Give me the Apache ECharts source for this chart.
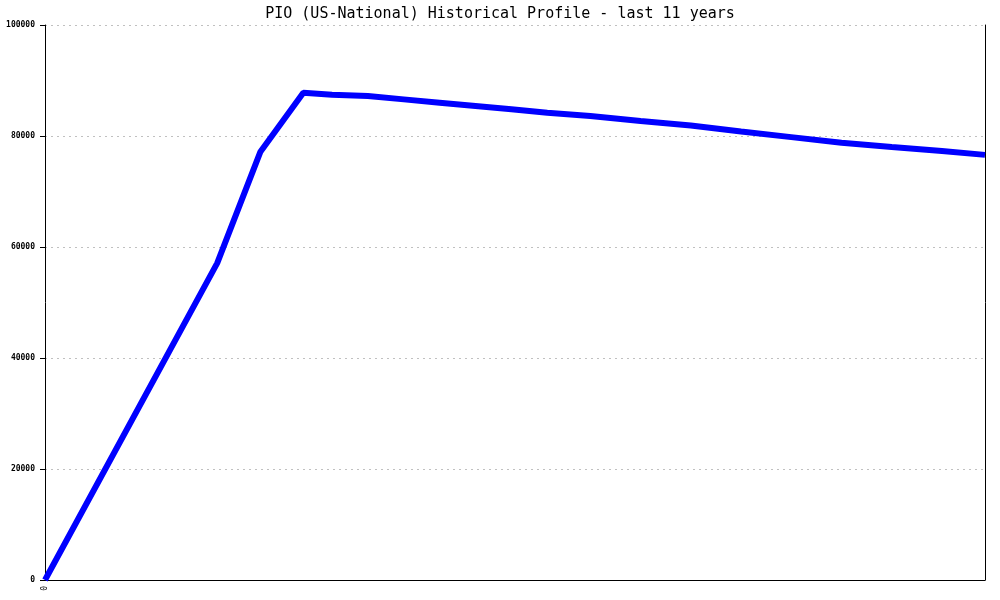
<!DOCTYPE html>
<html>
<head>
<meta charset="utf-8">
<script src="https://cdn.jsdelivr.net/npm/echarts@6/dist/echarts.min.js"></script>
<style>
  html, body { margin: 0; padding: 0; background: #fff; }
  #main { width: 1000px; height: 600px; }
</style>
</head>
<body>
<div id="main"></div>
<script>
// months since start of the 11-year window
const months = [0, 24, 30, 36, 40, 45, 50, 55, 60, 65, 70, 76, 83, 90, 97, 104, 111, 118, 125, 131]
// population values
const values = [0, 57100, 77100, 87800, 87450, 87200, 86600, 86000, 85400, 84800, 84200, 83600, 82700, 81900, 80800, 79800, 78800, 78000, 77300, 76600]
const yTicks = [0, 20000, 40000, 60000, 80000, 100000]

const font = 'DejaVu Sans Mono'
const chart = echarts.init(document.getElementById('main'))

chart.setOption({
    animation: false,
    title: {
        text: 'PIO (US-National) Historical Profile - last 11 years',
        left: 'center',
        top: 2,
        textStyle: { fontFamily: font, fontSize: 15, fontWeight: 'normal', color: '#000' }
    },
    grid: { left: 45, right: 15, top: 25, bottom: 20 },
    xAxis: {
        type: 'value',
        min: 0,
        max: months[months.length - 1],
        interval: months[months.length - 1],
        axisLine: { show: true, onZero: false, lineStyle: { color: '#000', width: 1 } },
        axisTick: { show: false },
        splitLine: { show: false },
        axisLabel: {
            rotate: 90,
            showMaxLabel: false,
            fontFamily: font,
            fontSize: 8,
            color: '#000',
            margin: 6,
            formatter: function (v) { return v === 0 ? '0' : '' }
        }
    },
    yAxis: [{
        type: 'value',
        min: yTicks[0],
        max: yTicks[yTicks.length - 1],
        interval: 20000,
        axisLine: { show: true, lineStyle: { color: '#000', width: 1 } },
        axisTick: { show: true, length: 5, inside: false, lineStyle: { color: '#000' } },
        axisLabel: {
            fontFamily: font, fontSize: 8, fontWeight: 'bold', color: '#000', margin: 10,
            formatter: function (v) { return String(v) }
        },
        splitLine: { show: true, lineStyle: { color: '#c0c0c0', type: [2, 4], width: 1 } }
    }, {
        type: 'value',
        position: 'right',
        min: yTicks[0],
        max: yTicks[yTicks.length - 1],
        axisLine: { show: true, lineStyle: { color: '#000', width: 1 } },
        axisTick: { show: false },
        axisLabel: { show: false },
        splitLine: { show: false }
    }],
    series: [{
        type: 'line',
        data: months.map(function (m, i) { return [m, values[i]] }),
        showSymbol: false,
        lineStyle: { color: '#0000ff', width: 6 },
        itemStyle: { color: '#0000ff' }
    }]
})
</script>
</body>
</html>
